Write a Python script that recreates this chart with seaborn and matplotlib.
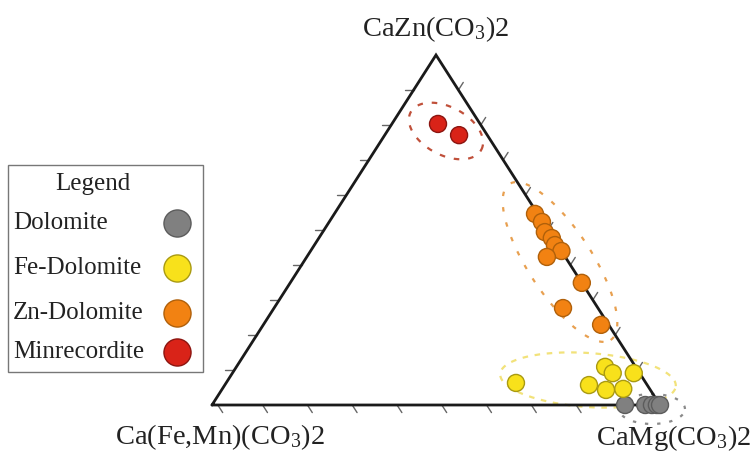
import numpy as np
import pandas as pd
import matplotlib
matplotlib.use("Agg")
import matplotlib.pyplot as plt
import seaborn as sns
from matplotlib.lines import Line2D
from matplotlib.patches import Rectangle

# ---------------- data (ternary %: Zn, Mg, Fe) ----------------
groups = ["Dolomite", "Fe-Dolomite", "Zn-Dolomite", "Minrecordite"]

dol_zn = [0.0, 0.0, 0.0, 0.0, 0.0]
dol_mg = [92.2, 96.7, 98.2, 99.3, 100.0]
dol_fe = [7.8, 3.3, 1.8, 0.7, 0.0]

fed_zn = [6.3, 10.9, 9.1, 9.1, 5.7, 4.3, 4.6]
fed_mg = [64.7, 82.3, 84.9, 89.6, 81.3, 85.8, 89.5]
fed_fe = [29.0, 6.8, 6.0, 1.3, 13.0, 9.9, 5.9]

znd_zn = [54.6, 52.3, 49.4, 47.7, 45.7, 44.0, 42.3, 34.9, 27.7, 22.9]
znd_mg = [44.8, 47.5, 49.6, 52.0, 53.7, 56.0, 53.6, 65.1, 64.5, 75.4]
znd_fe = [0.6, 0.2, 1.0, 0.3, 0.6, 0.0, 4.1, 0.0, 7.8, 1.7]

min_zn = [80.3, 77.1]
min_mg = [10.3, 16.6]
min_fe = [9.4, 6.3]

vertex_labels = ["CaZn(CO$\\mathregular{_3}$)2",
                 "Ca(Fe,Mn)(CO$\\mathregular{_3}$)2",
                 "CaMg(CO$\\mathregular{_3}$)2"]
legend_title = "Legend"

face_colors = ["#808080", "#f8e11b", "#f28212", "#d92318"]
edge_colors = ["#5c5c5c", "#a99a12", "#b0600a", "#8c1510"]

# ---------------- build table ----------------
frames = []
for g, zn, mg, fe in zip(groups,
                         [dol_zn, fed_zn, znd_zn, min_zn],
                         [dol_mg, fed_mg, znd_mg, min_mg],
                         [dol_fe, fed_fe, znd_fe, min_fe]):
    frames.append(pd.DataFrame({"group": g, "Zn": zn, "Mg": mg, "Fe": fe}))
df = pd.concat(frames, ignore_index=True)
tot = df["Zn"] + df["Mg"] + df["Fe"]
df["x"] = (df["Mg"] + df["Zn"] / 2) / tot
df["y"] = df["Zn"] / tot

# ---------------- figure ----------------
sns.set_theme(style="white")
plt.rcParams["font.family"] = ["Liberation Serif", "DejaVu Serif"]
plt.rcParams["mathtext.fontset"] = "custom"
plt.rcParams["mathtext.rm"] = "Liberation Serif"

W, H = 752, 457
fig = plt.figure(figsize=(W / 100, H / 100), dpi=100)
ax = fig.add_axes([0, 0, 1, 1])
# map triangle: (0,0)->px(212,405), (1,0)->px(660,405), (0.5,1)->px(436,55)
sx, sy = 448.0, 350.0
x0, ybase = 212.0, H - 405.0
ax.set_xlim(-x0 / sx, (W - x0) / sx)
ax.set_ylim(-ybase / sy, (H - ybase) / sy)
ax.axis("off")


def fx(px):
    return px / W


def fy(py):
    return 1 - py / H


# triangle
ax.plot([0, 1, 0.5, 0], [0, 0, 1, 0], color="#1a1a1a", lw=2.0, zorder=3,
        solid_joinstyle="miter")

# ticks
tlen = 9.0
tick_col = "#666666"
d = np.hypot(0.5 * sx, sy)
for t in np.arange(1, 10) / 10:
    ax.plot([t / 2, t / 2 - tlen / sx], [t, t], color=tick_col, lw=1.0, zorder=2)
    ax.plot([1 - t / 2, 1 - t / 2 + tlen * 0.5 / d],
            [t, t + tlen / d], color=tick_col, lw=1.0, zorder=2)
for t in np.arange(0, 10) / 10 + 0.013:
    ax.plot([t, t + tlen * 0.5 / d], [0, -tlen / d], color=tick_col, lw=1.0,
            zorder=2)


# ellipses (center in triangle coords, semi-axes in pixels, angle in degrees)
def draw_ellipse(cx, cy, a, b, ang, color, ls, lw=1.6):
    phi = np.linspace(0, 2 * np.pi, 200)
    th = np.deg2rad(ang)
    px = a * np.cos(phi) * np.cos(th) - b * np.sin(phi) * np.sin(th)
    py = a * np.cos(phi) * np.sin(th) + b * np.sin(phi) * np.cos(th)
    ax.plot(cx + px / sx, cy + py / sy, color=color, lw=lw, ls=ls, zorder=1)


draw_ellipse(0.5223, 0.7829, 40, 24, -28, "#c0503a", (0, (2.5, 4)))
draw_ellipse(0.7768, 0.4086, 93, 32, -57, "#e8a050", (0, (2.0, 5)))
draw_ellipse(0.8393, 0.0714, 88, 27, -4, "#f2e27a", (0, (2.5, 3)))
draw_ellipse(0.9821, -0.0114, 33, 15, 0, "#8a8a8a", (0, (1.5, 4)))

# points
sns.scatterplot(data=df, x="x", y="y", hue="group", hue_order=groups,
                palette=face_colors, s=150, linewidth=1.0,
                legend=False, ax=ax, zorder=4, clip_on=False)
coll = ax.collections[-1]
ec_map = dict(zip(groups, edge_colors))
coll.set_edgecolors([ec_map[g] for g in df["group"]])

# vertex labels
fs_v = 20.5
ax.text(0.5, (H - 29 - ybase) / sy, vertex_labels[0], ha="center", va="center",
        fontsize=fs_v, color="#222222")
ax.text((115 - x0) / sx, (H - 437 - ybase) / sy, vertex_labels[1], ha="left",
        va="center", fontsize=fs_v, color="#222222")
ax.text((751 - x0) / sx, (H - 438 - ybase) / sy, vertex_labels[2], ha="right",
        va="center", fontsize=fs_v, color="#222222")

# legend (drawn as a boxed panel)
box = Rectangle((fx(8), fy(372)), fx(203) - fx(8), fy(165) - fy(372),
                transform=fig.transFigure, facecolor="white",
                edgecolor="#777777", lw=1.0, zorder=5)
fig.add_artist(box)
fig.text(fx(93), fy(184), legend_title, ha="center", va="center", fontsize=18,
         color="#222222", zorder=6)
row_y = [223, 268, 313, 352]
for g, fc, ec, yy in zip(groups, face_colors, edge_colors, row_y):
    fig.text(fx(13), fy(yy), g, ha="left", va="center", fontsize=18,
             color="#222222", zorder=6)
    fig.add_artist(Line2D([fx(177)], [fy(yy)], transform=fig.transFigure,
                          ls="", marker="o", markersize=19.5,
                          markerfacecolor=fc, markeredgecolor=ec,
                          markeredgewidth=1.0, zorder=6))

fig.savefig("out.png", dpi=100)
